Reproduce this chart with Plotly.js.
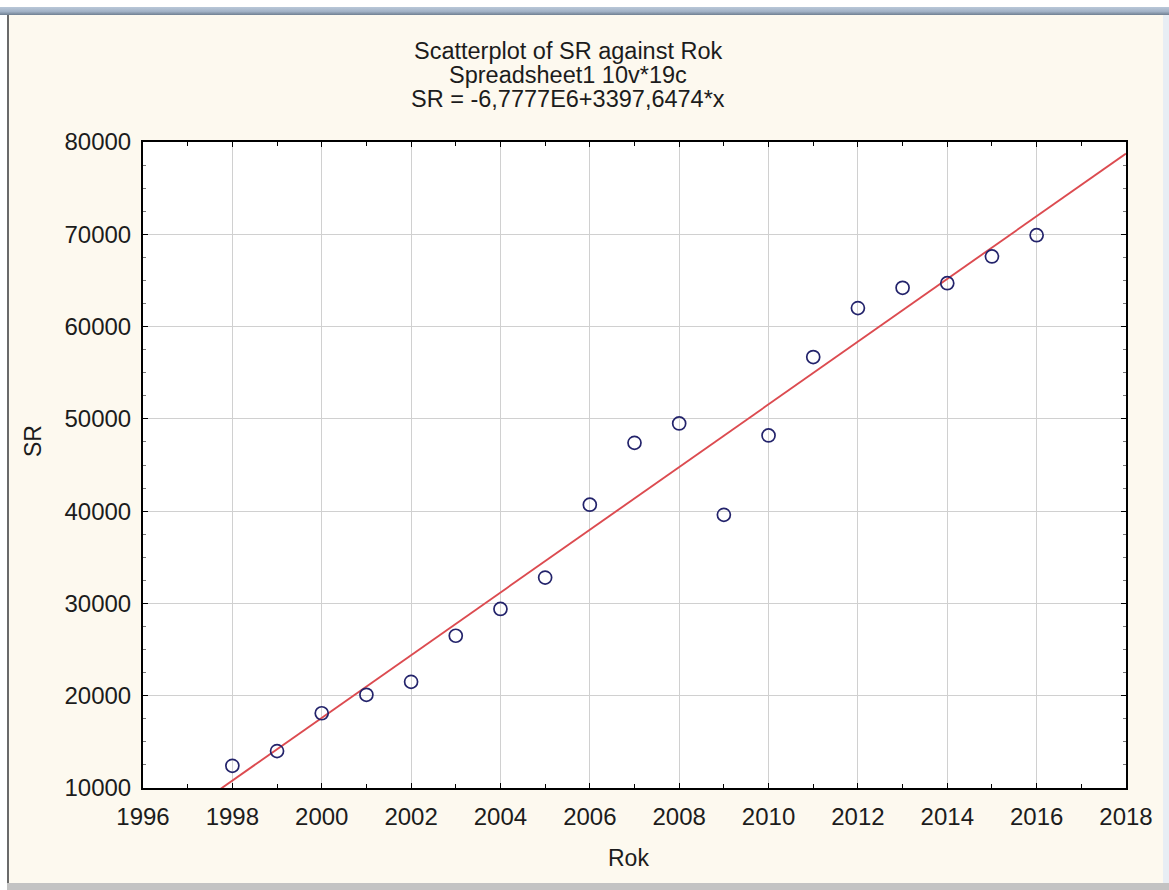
<!DOCTYPE html>
<html>
<head>
<meta charset="utf-8">
<script src="https://cdn.plot.ly/plotly-3.0.1.min.js"></script>
<style>
  html, body { margin: 0; padding: 0; width: 1169px; height: 890px; overflow: hidden; background: #ffffff; }
  #frame { position: absolute; left: 0; top: 0; width: 1169px; height: 890px; }
  #topbar { position: absolute; left: 0; top: 7px; width: 1169px; height: 8px;
            background: linear-gradient(to bottom, #b9c7d8 0%, #a3b3c7 55%, #6f7f91 100%); }
  #leftline { position: absolute; left: 7px; top: 15px; width: 2px; height: 868px; background: #6a6a6a; }
  #canvasbg { position: absolute; left: 9px; top: 15px; width: 1154px; height: 868px; background: #fdf9ef; }
  #rightstrip { position: absolute; left: 1163px; top: 15px; width: 6px; height: 868px; background: #e8eef4; }
  #bottombar { position: absolute; left: 7px; top: 883px; width: 1162px; height: 7px; background: #c3c3c3; }
  #chart { position: absolute; left: 0; top: 0; width: 1169px; height: 890px; }
</style>
</head>
<body>
<div id="frame">
  <div id="topbar"></div>
  <div id="canvasbg"></div>
  <div id="leftline"></div>
  <div id="rightstrip"></div>
  <div id="bottombar"></div>
</div>
<div id="chart"></div>
<script>
// Yearly observations: Rok (year) and SR
const rok = [1998, 1999, 2000, 2001, 2002, 2003, 2004, 2005, 2006, 2007,
             2008, 2009, 2010, 2011, 2012, 2013, 2014, 2015, 2016];
const sr = [12400, 14000, 18100, 20100, 21500, 26500, 29400, 32800, 40700, 47400,
            49500, 39600, 48200, 56700, 62000, 64200, 64700, 67600, 69900];

// Fitted linear model SR = a + b*x, as stated in the heading
const fitIntercept = [-6777700];
const fitSlope = [3397.6474];

// Axis extents and tick labels
const xRange = [1996, 2018];
const yRange = [10000, 80000];
const xTickVals = [1996, 1998, 2000, 2002, 2004, 2006, 2008, 2010, 2012, 2014, 2016, 2018];
const yTickVals = [10000, 20000, 30000, 40000, 50000, 60000, 70000, 80000];

const titleLines = ['Scatterplot of SR against Rok', 'Spreadsheet1 10v*19c', 'SR = -6,7777E6+3397,6474*x'];

const fitX = xRange.slice();
const fitY = fitX.map(x => fitIntercept[0] + fitSlope[0] * x);

const FONT = '"Liberation Sans", Arial, sans-serif';
const TXT = '#1c1c1c';

const traces = [
  {
    x: fitX, y: fitY, type: 'scatter', mode: 'lines',
    line: { color: '#dc4b50', width: 1.9 },
    hoverinfo: 'skip', showlegend: false
  },
  {
    x: rok, y: sr, type: 'scatter', mode: 'markers',
    marker: { symbol: 'circle-open', size: 13, color: '#23236b', line: { width: 1.7 } },
    showlegend: false
  }
];

const axisCommon = {
  showline: true, linecolor: '#000000', linewidth: 2, mirror: 'allticks',
  ticks: 'inside', ticklen: 5, tickcolor: '#000000', tickwidth: 1,
  showgrid: true, gridcolor: '#d0d0d0', gridwidth: 1,
  zeroline: false, tickformat: 'd',
  tickfont: { family: FONT, size: 24, color: TXT }
};

const plotTop = 142, plotBottom = 788, plotLeft = 143, plotRight = 1126;
const ph = plotBottom - plotTop, pw = plotRight - plotLeft;
const py = v => (plotBottom - v) / ph;
const px = v => (v - plotLeft) / pw;

const annotations = titleLines.map((t, i) => ({
  text: t, xref: 'paper', yref: 'paper',
  x: px(568), y: py(51 + 24 * i), xanchor: 'center', yanchor: 'middle',
  showarrow: false, font: { family: FONT, size: 23.5, color: TXT }
}));
annotations.push({
  text: 'Rok', xref: 'paper', yref: 'paper',
  x: px(628), y: py(858), xanchor: 'center', yanchor: 'middle',
  showarrow: false, font: { family: FONT, size: 23, color: TXT }
});
annotations.push({
  text: 'SR', xref: 'paper', yref: 'paper', textangle: -90,
  x: px(33), y: py(441), xanchor: 'center', yanchor: 'middle',
  showarrow: false, font: { family: FONT, size: 23, color: TXT }
});

const layout = {
  width: 1169, height: 890,
  margin: { l: plotLeft, r: 1169 - plotRight, t: plotTop, b: 890 - plotBottom, pad: 0 },
  paper_bgcolor: 'rgba(0,0,0,0)',
  plot_bgcolor: '#ffffff',
  showlegend: false,
  xaxis: Object.assign({}, axisCommon, {
    range: xRange, tickmode: 'array', tickvals: xTickVals, ticklabelstandoff: 6,
    minor: { dtick: 1, tick0: 1996, ticks: 'inside', ticklen: 4, tickcolor: '#000000', showgrid: false }
  }),
  yaxis: Object.assign({}, axisCommon, {
    range: yRange, tickmode: 'array', tickvals: yTickVals, ticklabelstandoff: 5,
    minor: { dtick: 2500, tick0: 10000, ticks: 'inside', ticklen: 3, tickcolor: '#777777', showgrid: false }
  }),
  annotations: annotations
};

Plotly.newPlot('chart', traces, layout, { displayModeBar: false, staticPlot: true });
</script>
</body>
</html>
